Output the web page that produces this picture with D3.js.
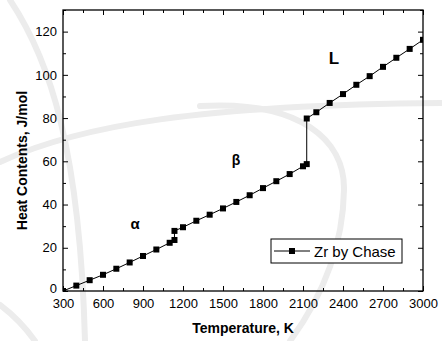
<!DOCTYPE html>
<html>
<head>
<meta charset="utf-8">
<script src="https://cdn.jsdelivr.net/npm/d3@7/dist/d3.min.js"></script>
<style>
  html, body { margin: 0; padding: 0; background: #fff; }
  svg { display: block; }
  text { font-family: Arial, "Liberation Sans", sans-serif; fill: #000; }
</style>
</head>
<body>
<script>
// Enthalpy of zirconium, H(T) - H(298), by phase (Chase tables)
const temperatures = [300, 400, 500, 600, 700, 800, 900, 1000, 1100, 1136,
                      1136, 1200, 1300, 1400, 1500, 1600, 1700, 1800, 1900, 2000, 2100, 2128,
                      2128, 2200, 2300, 2400, 2500, 2600, 2700, 2800, 2900, 3000];
const heatContents = [0, 2.5, 5.0, 7.5, 10.3, 13.2, 16.2, 19.2, 22.3, 23.6,
                      27.8, 29.5, 32.5, 35.3, 38.2, 41.2, 44.3, 47.6, 50.8, 54.1, 57.7, 58.7,
                      79.8, 82.7, 87.0, 91.1, 95.4, 99.4, 103.7, 107.9, 112.0, 116.2];
const xTicks = [300, 600, 900, 1200, 1500, 1800, 2100, 2400, 2700, 3000];
const yTicks = [0, 20, 40, 60, 80, 100, 120];
const phaseLabels = [
  { text: "α", t: 840, h: 28.8, size: 15 },
  { text: "β", t: 1598, h: 58.5, size: 14 },
  { text: "L", t: 2333, h: 104.8, size: 17 }
];
const seriesName = "Zr by Chase";

const W = 442, H = 341;
const margin = { left: 63, right: 19, top: 10, bottom: 50 };

const svg = d3.select("body").append("svg").attr("width", W).attr("height", H);

// faint background arcs
const wm = svg.append("g").attr("fill", "none").attr("stroke", "#ececec")
  .attr("stroke-width", 6).attr("stroke-linecap", "round");
wm.append("path").attr("d", "M 10 0 C 50 60, 80 150, 85 341");
wm.append("path").attr("d", "M 0 162 C 80 125, 200 105, 442 103");
wm.append("path").attr("d", "M 200 106 C 300 100, 345 140, 344 190 C 343 250, 320 300, 290 341");
wm.append("path").attr("d", "M 0 305 Q 20 320 35 341");

const x = d3.scaleLinear().domain([300, 3000]).range([margin.left, W - margin.right]);
const y = d3.scaleLinear().domain([0, 130]).range([H - margin.bottom, margin.top]);

const x0 = x.range()[0], x1 = x.range()[1];
const y0 = y.range()[0], y1 = y.range()[1];

const xMinor = d3.range(300, 3001, 150).filter(v => !xTicks.includes(v));
const yMinor = d3.range(0, 131, 10).filter(v => !yTicks.includes(v));

function styleAxis(g) {
  g.select(".domain").remove();
  g.selectAll("line").attr("stroke", "#000").attr("stroke-width", 1);
  g.selectAll("text").style("font-size", "13px")
    .style("font-family", 'Arial, "Liberation Sans", sans-serif');
}

// bottom
svg.append("g").attr("transform", `translate(0,${y0})`)
  .call(d3.axisBottom(x).tickValues(xTicks).tickSize(-5).tickPadding(8).tickFormat(d3.format("d")))
  .call(styleAxis);
svg.append("g").attr("transform", `translate(0,${y0})`)
  .call(d3.axisBottom(x).tickValues(xMinor).tickSize(-3).tickFormat(""))
  .call(styleAxis);
// top
svg.append("g").attr("transform", `translate(0,${y1})`)
  .call(d3.axisTop(x).tickValues(xTicks).tickSize(-5).tickFormat(""))
  .call(styleAxis);
svg.append("g").attr("transform", `translate(0,${y1})`)
  .call(d3.axisTop(x).tickValues(xMinor).tickSize(-3).tickFormat(""))
  .call(styleAxis);
// left
svg.append("g").attr("transform", `translate(${x0},0)`)
  .call(d3.axisLeft(y).tickValues(yTicks).tickSize(-5).tickPadding(6).tickFormat(d3.format("d")))
  .call(styleAxis)
  .call(g => g.selectAll(".tick text").filter(d => d === 0).attr("y", -2.5));
svg.append("g").attr("transform", `translate(${x0},0)`)
  .call(d3.axisLeft(y).tickValues(yMinor).tickSize(-3).tickFormat(""))
  .call(styleAxis);
// right
svg.append("g").attr("transform", `translate(${x1},0)`)
  .call(d3.axisRight(y).tickValues(yTicks).tickSize(-5).tickFormat(""))
  .call(styleAxis);
svg.append("g").attr("transform", `translate(${x1},0)`)
  .call(d3.axisRight(y).tickValues(yMinor).tickSize(-3).tickFormat(""))
  .call(styleAxis);

// frame
svg.append("rect").attr("x", x0).attr("y", y1).attr("width", x1 - x0).attr("height", y0 - y1)
  .attr("fill", "none").attr("stroke", "#000").attr("stroke-width", 1.3);

// data
svg.append("clipPath").attr("id", "plotclip").append("rect")
  .attr("x", x0).attr("y", y1).attr("width", x1 - x0).attr("height", y0 - y1);

const pts = temperatures.map((t, i) => [t, heatContents[i]]);
const plot = svg.append("g").attr("clip-path", "url(#plotclip)");
plot.append("path").datum(pts)
  .attr("fill", "none").attr("stroke", "#000").attr("stroke-width", 1)
  .attr("d", d3.line().x(d => x(d[0])).y(d => y(d[1])));
const ms = 6;
plot.selectAll("rect.pt").data(pts).join("rect").attr("class", "pt")
  .attr("x", d => x(d[0]) - ms / 2).attr("y", d => y(d[1]) - ms / 2)
  .attr("width", ms).attr("height", ms).attr("fill", "#000");

// phase labels
svg.selectAll("text.phase").data(phaseLabels).join("text").attr("class", "phase")
  .attr("x", d => x(d.t)).attr("y", d => y(d.h))
  .attr("text-anchor", "middle").attr("font-weight", "bold")
  .style("font-size", d => d.size + "px")
  .text(d => d.text);

// axis titles
svg.append("text").attr("x", (x0 + x1) / 2).attr("y", 333)
  .attr("text-anchor", "middle").attr("font-weight", "bold").style("font-size", "14px")
  .text("Temperature, K");
svg.append("text").attr("transform", `translate(26.5,${(y0 + y1) / 2 + 10}) rotate(-90)`)
  .attr("text-anchor", "middle").attr("font-weight", "bold").style("font-size", "14px")
  .text("Heat Contents, J/mol");

// legend
const lg = svg.append("g");
lg.append("rect").attr("x", 271).attr("y", 239).attr("width", 131).attr("height", 24)
  .attr("fill", "#fff").attr("stroke", "#000").attr("stroke-width", 1);
lg.append("line").attr("x1", 274).attr("x2", 310).attr("y1", 251).attr("y2", 251)
  .attr("stroke", "#000").attr("stroke-width", 1);
lg.append("rect").attr("x", 292 - ms / 2).attr("y", 251 - ms / 2).attr("width", ms).attr("height", ms)
  .attr("fill", "#000");
lg.append("text").attr("x", 314).attr("y", 256.5).style("font-size", "15px").text(seriesName);
</script>
</body>
</html>
